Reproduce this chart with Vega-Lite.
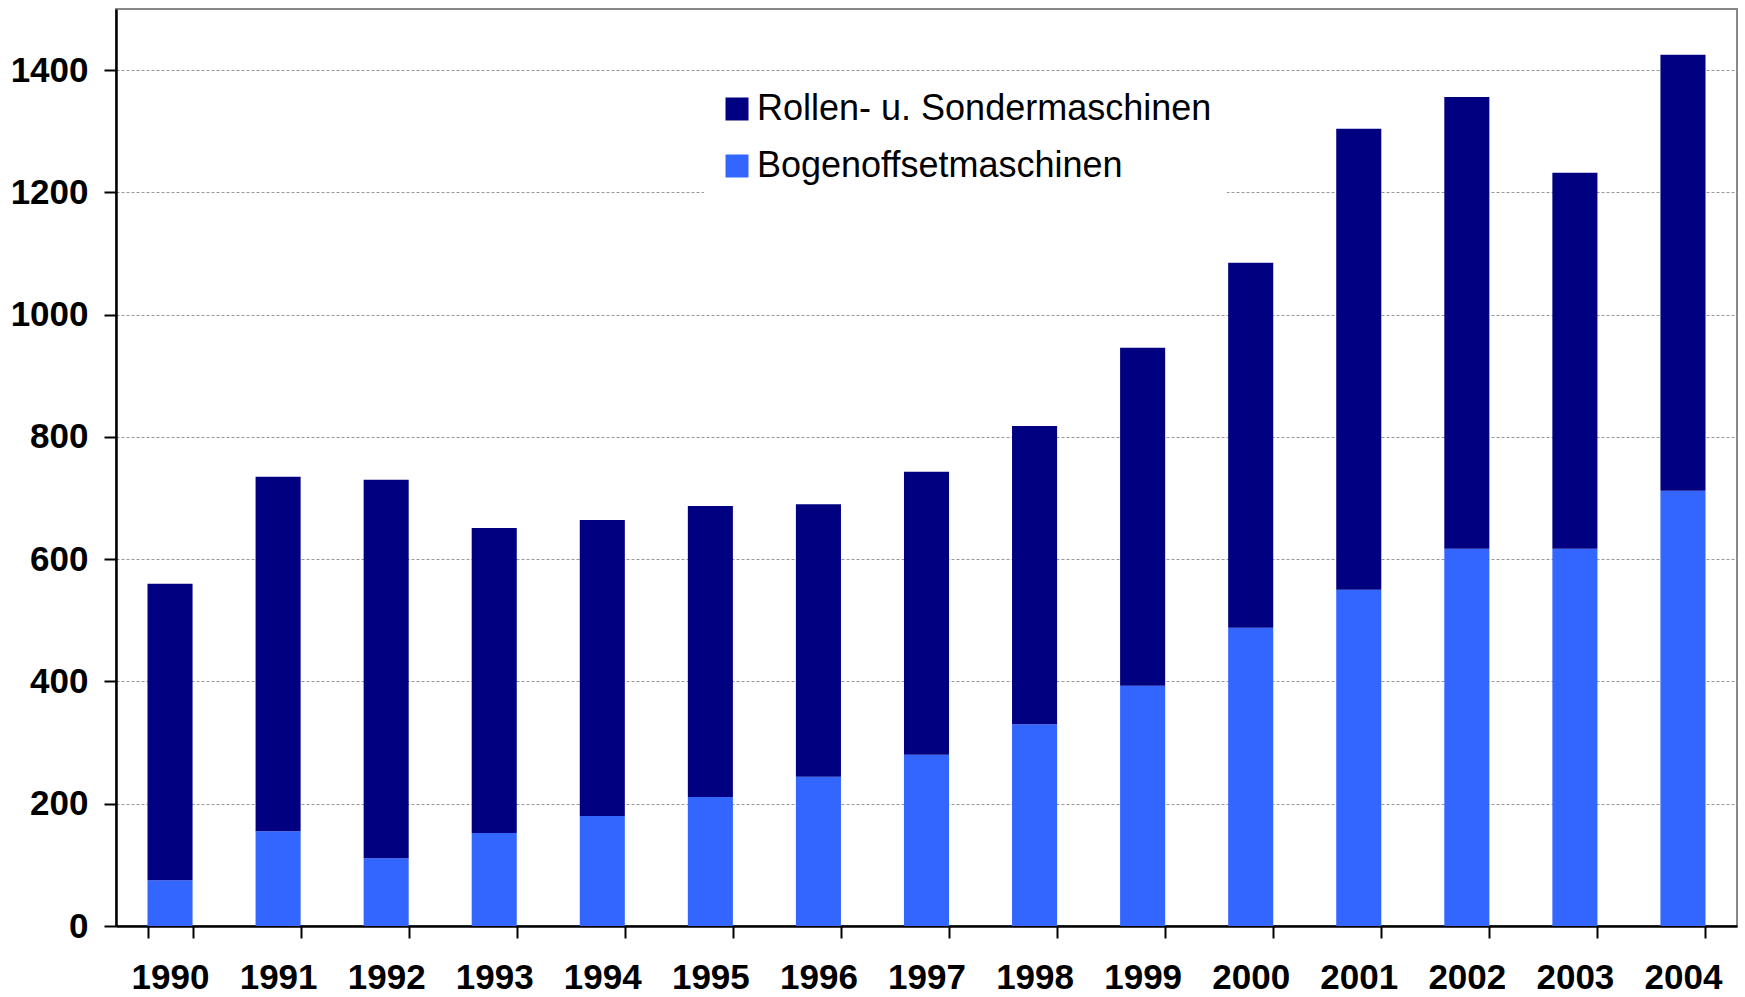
{
  "$schema": "https://vega.github.io/schema/vega-lite/v6.json",
  "width": 1621,
  "height": 917,
  "autosize": {"type": "none"},
  "padding": {"left": 116, "top": 9, "right": 8, "bottom": 71},
  "background": "white",
  "config": {
    "view": {"stroke": "#888888", "strokeWidth": 2},
    "font": "Liberation Sans"
  },
  "data": {
    "values": [
      {"year": "1990", "type": "Bogenoffsetmaschinen", "value": 75},
      {"year": "1991", "type": "Bogenoffsetmaschinen", "value": 155},
      {"year": "1992", "type": "Bogenoffsetmaschinen", "value": 111},
      {"year": "1993", "type": "Bogenoffsetmaschinen", "value": 152},
      {"year": "1994", "type": "Bogenoffsetmaschinen", "value": 180},
      {"year": "1995", "type": "Bogenoffsetmaschinen", "value": 211},
      {"year": "1996", "type": "Bogenoffsetmaschinen", "value": 244},
      {"year": "1997", "type": "Bogenoffsetmaschinen", "value": 280},
      {"year": "1998", "type": "Bogenoffsetmaschinen", "value": 330},
      {"year": "1999", "type": "Bogenoffsetmaschinen", "value": 393},
      {"year": "2000", "type": "Bogenoffsetmaschinen", "value": 488},
      {"year": "2001", "type": "Bogenoffsetmaschinen", "value": 550},
      {"year": "2002", "type": "Bogenoffsetmaschinen", "value": 617},
      {"year": "2003", "type": "Bogenoffsetmaschinen", "value": 617},
      {"year": "2004", "type": "Bogenoffsetmaschinen", "value": 712},
      {"year": "1990", "type": "Rollen- u. Sondermaschinen", "value": 485},
      {"year": "1991", "type": "Rollen- u. Sondermaschinen", "value": 580},
      {"year": "1992", "type": "Rollen- u. Sondermaschinen", "value": 619},
      {"year": "1993", "type": "Rollen- u. Sondermaschinen", "value": 499},
      {"year": "1994", "type": "Rollen- u. Sondermaschinen", "value": 484},
      {"year": "1995", "type": "Rollen- u. Sondermaschinen", "value": 476},
      {"year": "1996", "type": "Rollen- u. Sondermaschinen", "value": 446},
      {"year": "1997", "type": "Rollen- u. Sondermaschinen", "value": 463},
      {"year": "1998", "type": "Rollen- u. Sondermaschinen", "value": 488},
      {"year": "1999", "type": "Rollen- u. Sondermaschinen", "value": 553},
      {"year": "2000", "type": "Rollen- u. Sondermaschinen", "value": 597},
      {"year": "2001", "type": "Rollen- u. Sondermaschinen", "value": 754},
      {"year": "2002", "type": "Rollen- u. Sondermaschinen", "value": 739},
      {"year": "2003", "type": "Rollen- u. Sondermaschinen", "value": 615},
      {"year": "2004", "type": "Rollen- u. Sondermaschinen", "value": 713}
    ]
  },
  "mark": {"type": "bar"},
  "encoding": {
    "x": {
      "field": "year",
      "type": "ordinal",
      "scale": {"paddingInner": 0.583, "paddingOuter": 0.2915},
      "axis": {
        "title": null,
        "labelAngle": 0,
        "labelFont": "Liberation Sans",
        "labelFontSize": 35,
        "labelFontWeight": "bold",
        "labelColor": "#000000",
        "labelPadding": 22,
        "tickBand": "extent",
        "ticks": true,
        "tickSize": 12,
        "tickWidth": 2,
        "tickColor": "#000000",
        "domainColor": "#000000",
        "domainWidth": 2.5,
        "grid": false
      }
    },
    "y": {
      "field": "value",
      "type": "quantitative",
      "stack": "zero",
      "scale": {"domain": [0, 1500], "nice": false},
      "axis": {
        "title": null,
        "values": [0, 200, 400, 600, 800, 1000, 1200, 1400],
        "format": "d",
        "labelFont": "Liberation Sans",
        "labelFontSize": 35,
        "labelFontWeight": "bold",
        "labelColor": "#000000",
        "labelPadding": 16,
        "tickSize": 12,
        "tickWidth": 2,
        "tickColor": "#000000",
        "domainColor": "#000000",
        "domainWidth": 2.5,
        "grid": true,
        "gridColor": "#999999",
        "gridDash": [3, 2],
        "gridWidth": 1.2
      }
    },
    "color": {
      "field": "type",
      "type": "nominal",
      "scale": {
        "domain": ["Rollen- u. Sondermaschinen", "Bogenoffsetmaschinen"],
        "range": ["#000080", "#3366FF"]
      },
      "legend": {
        "title": null,
        "orient": "none",
        "legendX": 588,
        "legendY": 67,
        "padding": 15,
        "fillColor": "white",
        "strokeColor": null,
        "symbolType": "square",
        "symbolSize": 529,
        "symbolStrokeWidth": 0,
        "labelFont": "Liberation Sans",
        "labelFontSize": 36,
        "labelColor": "#000000",
        "labelOffset": 2,
        "rowPadding": 21,
        "labelLimit": 700
      }
    },
    "order": {"field": "type", "sort": "ascending"}
  }
}
